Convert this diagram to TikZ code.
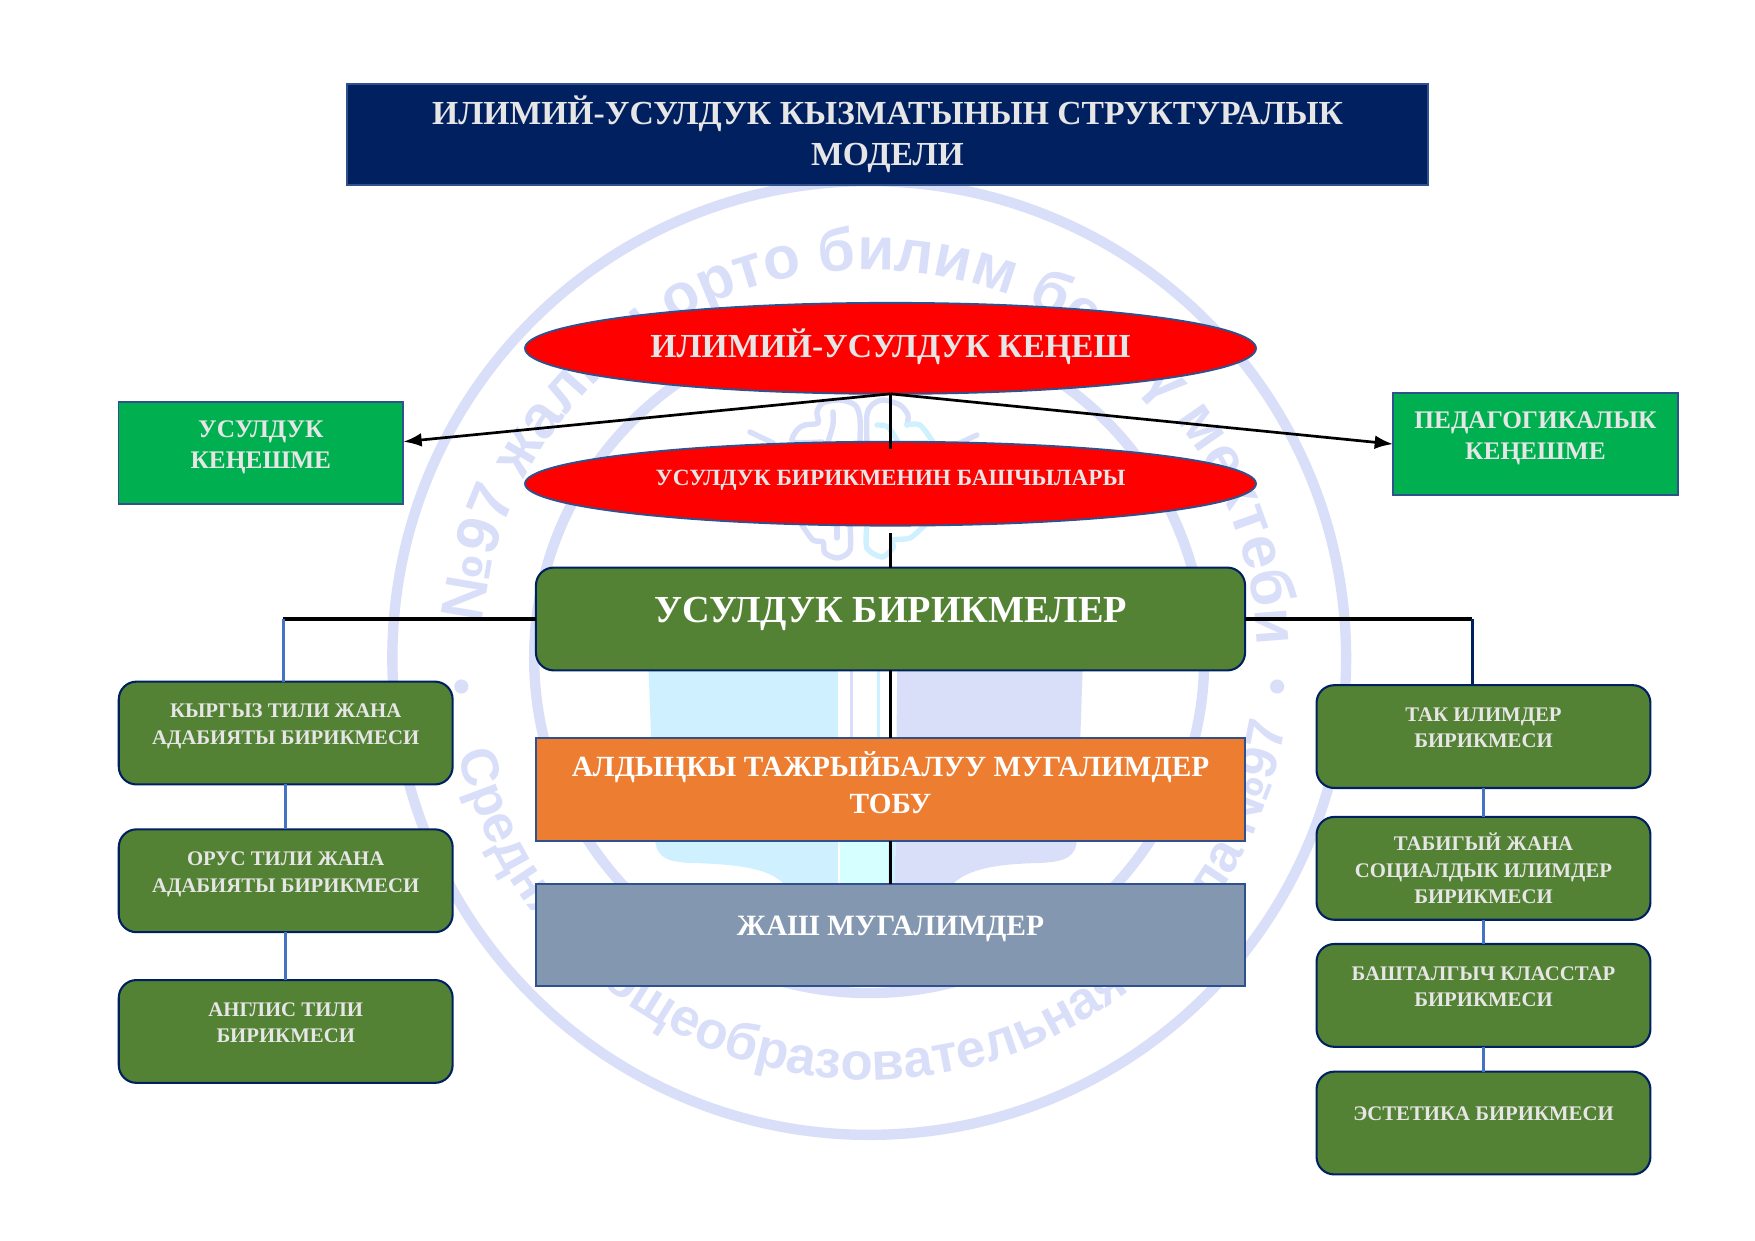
\documentclass[tikz,border=0pt]{standalone}
\usepackage{fontspec}
\setmainfont{Liberation Serif}
\newfontfamily\wmfont{Liberation Sans}
\usetikzlibrary{
  arrows.meta,
  calc,
  positioning,
  shapes.geometric,
  decorations.text
}
\definecolor{wmring}{HTML}{D9DFF8}
\definecolor{wmcyan}{HTML}{CFF0FE}
\definecolor{wmpale}{HTML}{D6FFFF}
\definecolor{navy}{HTML}{002060}
\definecolor{edge}{HTML}{2F528F}
\definecolor{leaf}{HTML}{548235}
\definecolor{mint}{HTML}{00B050}
\definecolor{amber}{HTML}{ED7D31}
\definecolor{slate}{HTML}{8497B0}
\definecolor{paper}{HTML}{E7E6E6}
\definecolor{link}{HTML}{4472C4}

\begin{document}
\begin{tikzpicture}[
  outer sep=0pt,
  titlebox/.style={draw=edge, fill=navy, text=paper, line width=0.9pt, align=center, inner sep=0pt, minimum width=18.29cm, minimum height=1.71cm, font=\fontsize{16.2}{20}\selectfont\bfseries},
  oval/.style={draw=edge, fill=red, text=paper, line width=0.9pt, ellipse, align=center, inner sep=0pt, minimum width=12.37cm},
  rect/.style={draw=edge, line width=0.9pt, align=center, inner sep=0pt, text=white, minimum width=12.0cm, minimum height=1.73cm, font=\bfseries},
  side/.style={draw=edge, fill=mint, line width=0.9pt, align=center, inner sep=0pt, text=paper, minimum width=4.82cm, minimum height=1.72cm, font=\fontsize{12.2}{15}\selectfont\bfseries},
  unit/.style={draw=navy, fill=leaf, line width=1pt, rounded corners=0.3cm, align=center, inner sep=0pt, text=paper, minimum width=5.65cm, minimum height=1.74cm, font=\fontsize{10}{12.8}\selectfont\bfseries},
  hub/.style={unit, text=white, minimum width=12.0cm, font=\fontsize{18.4}{20}\selectfont\bfseries},
  joint/.style={line width=1.5pt},
  arrow/.style={-Latex, line width=1.3pt},
  blueline/.style={draw=link, line width=1.6pt},
  ringline/.style={draw=wmring, line width=5pt},
  petal/.style={draw=wmring, line width=2.6pt, line cap=round},
  petalb/.style={draw=wmcyan, line width=2.6pt, line cap=round}
]
\useasboundingbox (0,0) rectangle (29.7,-21);

\coordinate (wmc) at (14.71,-11.135);
\draw[ringline] (wmc) circle (8.07cm);
\draw[ringline] (wmc) circle (5.67cm);
\fill[wmring] ($(wmc)+(184:6.92)$) circle (0.12cm);
\fill[wmring] ($(wmc)+(356:6.92)$) circle (0.12cm);
\path[decorate, decoration={text along path, text align={fit to path},
  text={|\wmfont\bfseries\fontsize{29}{29}\selectfont\color{wmring}|№97 жалпы орто билим берүү мектеби}}]
  ($(wmc)+(175:6.57)$) arc[start angle=175, end angle=4, radius=6.57cm];
\path[decorate, decoration={text along path, text align={fit to path},
  text={|\wmfont\bfseries\fontsize{25.5}{26}\selectfont\color{wmring}|Средняя общеобразовательная школа №97}}]
  ($(wmc)+(193:7.14)$) arc[start angle=193, end angle=351, radius=7.14cm];

\begin{scope}[x=0.016924cm, y=-0.016924cm]
\fill[wmcyan] (646,600) -- (655,840) .. controls (657,858) and (668,862) .. (690,863) .. controls (735,864) and (770,868) .. (785,885) -- (838,885) -- (838,600) -- cycle;
\fill[wmring] (898,600) -- (895,885) -- (952,885) .. controls (968,868) and (1000,864) .. (1040,863) .. controls (1068,862) and (1076,855) .. (1077,840) -- (1085,600) -- cycle;
\fill[wmpale] (840,838) rectangle (888,885);
\fill[wmcyan] (888,838) rectangle (895,885);
\fill[wmring] (850,665) rectangle (853,740);
\fill[wmcyan] (877,665) rectangle (880,740);
\draw[petal] plot[smooth] coordinates {(822,442) (793,442) (797,430) (805,425) (818,423) (817,412) (823,403) (840,400) (855,405) (860,418) (860,442)};
\draw[petal] plot[smooth] coordinates {(833,412) (833,425) (828,442)};
\draw[petal] plot[smooth] coordinates {(802,525) (813,540) (823,542) (825,553) (838,558) (850,550) (850,525)};
\draw[petal] (837,525) -- (837,538);
\draw[petal] (750,432) -- (773,443);
\draw[petal] (977,435) -- (960,443);
\draw[petal] plot[smooth] coordinates {(867,442) (867,415) (872,405) (883,400) (900,405) (908,415) (907,425)};
\draw[petalb] plot[smooth] coordinates {(907,425) (920,425) (933,442)};
\draw[petalb] plot[smooth] coordinates {(877,425) (888,427) (898,442)};
\draw[petalb] plot[smooth] coordinates {(867,525) (867,548) (882,557) (893,548) (893,540) (910,538) (925,525)};
\end{scope}

\node[titlebox] (title) at (15.02,-2.275) {ИЛИМИЙ-УСУЛДУК КЫЗМАТЫНЫН СТРУКТУРАЛЫК\\МОДЕЛИ};

\node[oval, minimum height=1.54cm, font=\fontsize{16.2}{20}\selectfont\bfseries] (kenesh) at (15.07,-5.895) {ИЛИМИЙ-УСУЛДУК КЕҢЕШ\\[-15pt]~};
\node[oval, minimum height=1.42cm, below=0.81cm of kenesh, font=\fontsize{11.2}{14}\selectfont\bfseries] (bashchy) {УСУЛДУК БИРИКМЕНИН БАШЧЫЛАРЫ\\[-8pt]~};
\node[hub, below=0.71cm of bashchy] (birikme) {УСУЛДУК БИРИКМЕЛЕР\\[-11pt]~};
\node[rect, fill=amber, below=1.15cm of birikme, font=\fontsize{14.1}{17.7}\selectfont\bfseries] (top) {АЛДЫҢКЫ ТАЖРЫЙБАЛУУ МУГАЛИМДЕР\\ТОБУ\\[-11pt]~};
\node[rect, fill=slate, below=0.73cm of top, font=\fontsize{14.2}{17}\selectfont\bfseries] (jash) {ЖАШ МУГАЛИМДЕР\\[-8.4pt]~};

\node[side, left=2.06cm of bashchy.west, yshift=0.52cm] (ukenesh) {УСУЛДУК\\КЕҢЕШМЕ\\[-7pt]~};
\node[side, right=2.32cm of bashchy.east, yshift=0.67cm] (pkenesh) {ПЕДАГОГИКАЛЫК\\КЕҢЕШМЕ\\[-7pt]~};

\node[unit, below left=0.19cm and 1.41cm of birikme.south west] (kyrgyz) {КЫРГЫЗ ТИЛИ ЖАНА\\АДАБИЯТЫ БИРИКМЕСИ\\[-4.2pt]~};
\node[unit, below=0.76cm of kyrgyz] (orus) {ОРУС ТИЛИ ЖАНА\\АДАБИЯТЫ БИРИКМЕСИ\\[-4.2pt]~};
\node[unit, below=0.81cm of orus] (anglis) {АНГЛИС ТИЛИ\\БИРИКМЕСИ\\[-4.2pt]~};

\node[unit, below right=0.25cm and 1.21cm of birikme.south east] (tak) {ТАК ИЛИМДЕР\\БИРИКМЕСИ\\[-4.2pt]~};
\node[unit, below=0.49cm of tak] (tabigy) {ТАБИГЫЙ ЖАНА\\СОЦИАЛДЫК ИЛИМДЕР\\БИРИКМЕСИ};
\node[unit, below=0.41cm of tabigy] (bashtal) {БАШТАЛГЫЧ КЛАССТАР\\БИРИКМЕСИ\\[-4.2pt]~};
\node[unit, below=0.42cm of bashtal] (estetika) {ЭСТЕТИКА БИРИКМЕСИ\\[-4.2pt]~};

\coordinate (ldrop) at ($(kyrgyz.north)+(-0.04,0)$);
\coordinate (ljoin) at (ldrop |- birikme.west);
\coordinate (rdrop) at ($(tak.north)+(-0.19,0)$);
\coordinate (rjoin) at (rdrop |- birikme.east);

\draw[arrow] (kenesh.south) -- ($(ukenesh.east)+(0,0.19)$);
\draw[arrow] (kenesh.south) -- (pkenesh.west);
\draw[joint] (kenesh.south) -- ($(bashchy.north)+(0,-0.12)$);
\draw[joint, shorten <=0.13cm] (bashchy.south) -- (birikme.north);
\draw[joint] (birikme.south) -- (top.north);
\draw[joint] (top.south) -- (jash.north);
\draw[joint] (birikme.west) -- (ljoin);
\draw[blueline] (ljoin) -- (ldrop);
\draw[joint] (birikme.east) -- (rjoin);
\draw[draw=navy, line width=1.6pt] (rjoin) -- (rdrop);
\draw[blueline] (kyrgyz.south) -- (orus.north);
\draw[blueline] (orus.south) -- (anglis.north);
\draw[blueline] (tak.south) -- (tabigy.north);
\draw[blueline] (tabigy.south) -- (bashtal.north);
\draw[blueline] (bashtal.south) -- (estetika.north);
\end{tikzpicture}
\end{document}
